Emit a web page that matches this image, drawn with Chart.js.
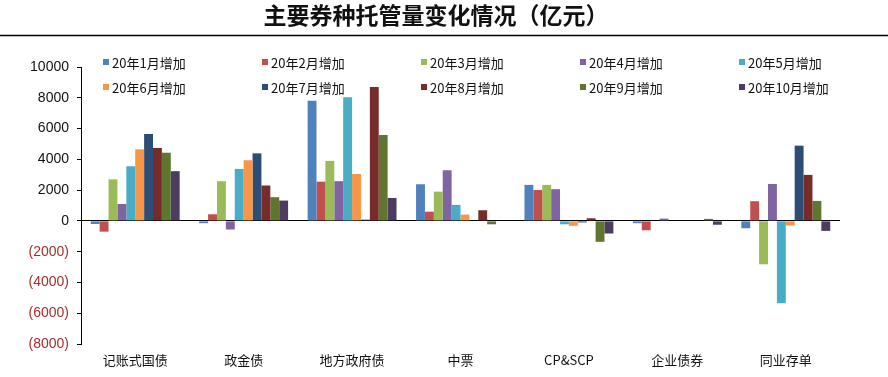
<!DOCTYPE html>
<html>
<head>
<meta charset="utf-8">
<script src="https://cdn.jsdelivr.net/npm/chart.js@4.4.0/dist/chart.umd.min.js"></script>
<style>
  html, body { margin: 0; padding: 0; background: #fff; }
  #wrap { width: 888px; height: 377px; }
</style>
</head>
<body>
<div id="wrap"><canvas id="chart" width="888" height="377"></canvas></div>
<script>
// categories and tick labels
const categories = ['记账式国债', '政金债', '地方政府债', '中票', 'CP&SCP', '企业债券', '同业存单'];
const seriesNames = ['20年1月增加', '20年2月增加', '20年3月增加', '20年4月增加', '20年5月增加',
                     '20年6月增加', '20年7月增加', '20年8月增加', '20年9月增加', '20年10月增加'];
const seriesColors = ['#4F81BD', '#C0504D', '#9BBB59', '#8064A2', '#4BACC6',
                      '#F79646', '#2C4D75', '#772C2A', '#5F7530', '#4D3B62'];

// values per month (亿元), one entry per category
const jan = [-200, -150, 7800, 2380, 2340, -150, -480];
const feb = [-700, 430, 2550, 600, 2010, -610, 1280];
const mar = [2700, 2580, 3900, 1900, 2340, 0, -2820];
const apr = [1100, -560, 2580, 3290, 2060, 150, 2400];
const may = [3550, 3380, 8030, 1040, -220, 0, -5350];
const jun = [4650, 3940, 3050, 410, -320, 0, -300];
const jul = [5650, 4390, 80, 0, -100, 0, 4890];
const aug = [4740, 2300, 8700, 690, 170, 0, 2990];
const sep = [4430, 1540, 5580, -220, -1360, 130, 1300];
const oct = [3230, 1320, 1490, 0, -820, -250, -650];

const yTicks = [-8000, -6000, -4000, -2000, 0, 2000, 4000, 6000, 8000, 10000];

const allValues = [jan, feb, mar, apr, may, jun, jul, aug, sep, oct];

// title, rule under it and two-row legend
const decor = {
  id: 'decor',
  afterDraw(chart) {
    const ctx = chart.ctx;
    ctx.save();
    ctx.fillStyle = '#111';
    ctx.font = 'bold 23px "Noto Sans CJK SC"';
    ctx.textAlign = 'center';
    ctx.textBaseline = 'middle';
    ctx.fillText('主要券种托管量变化情况（亿元）', 436, 15);

    ctx.strokeStyle = '#000';
    ctx.lineWidth = 1.5;
    ctx.beginPath();
    ctx.moveTo(0, 35.5);
    ctx.lineTo(888, 35.5);
    ctx.stroke();

    ctx.font = '13px "Noto Sans CJK SC"';
    ctx.textAlign = 'left';
    seriesNames.forEach((name, i) => {
      const col = i % 5, row = Math.floor(i / 5);
      const x = 103 + col * 159;
      const y = 62 + row * 25;
      ctx.fillStyle = seriesColors[i];
      ctx.fillRect(x, y - 3, 6, 6);
      ctx.fillStyle = '#111';
      ctx.fillText(name, x + 9, y + 1);
    });
    ctx.restore();
  }
};

new Chart(document.getElementById('chart'), {
  type: 'bar',
  data: {
    labels: categories,
    datasets: allValues.map((vals, i) => ({
      label: seriesNames[i],
      data: vals,
      backgroundColor: seriesColors[i],
      barPercentage: 1.0,
      categoryPercentage: 0.82
    }))
  },
  options: {
    responsive: false,
    animation: false,
    layout: { padding: { top: 67, right: 48, left: 0, bottom: 0 } },
    plugins: {
      legend: { display: false },
      title: { display: false },
      tooltip: { enabled: false }
    },
    scales: {
      x: {
        grid: { display: false },
        border: { display: false },
        ticks: {
          color: '#111',
          font: { family: '"Noto Sans CJK SC"', size: 13 },
          padding: 0,
          maxRotation: 0
        },
        afterFit(scale) { scale.height = 33; }
      },
      y: {
        min: -8000,
        max: 10000,
        afterBuildTicks(scale) { scale.ticks = yTicks.map(v => ({ value: v })); },
        border: { display: true, color: '#000', width: 1 },
        grid: {
          color: c => (c.tick && c.tick.value === 0 ? '#000' : 'rgba(0,0,0,0)'),
          tickColor: '#000',
          tickLength: 4,
          lineWidth: 1
        },
        ticks: {
          padding: 8,
          font: { family: '"Liberation Sans"', size: 14 },
          color: c => (c.tick.value < 0 ? '#A0302E' : '#111'),
          callback: v => (v < 0 ? '(' + Math.abs(v) + ')' : String(v))
        },
        afterFit(scale) { scale.width = 81; }
      }
    }
  },
  plugins: [decor]
});
</script>
</body>
</html>
